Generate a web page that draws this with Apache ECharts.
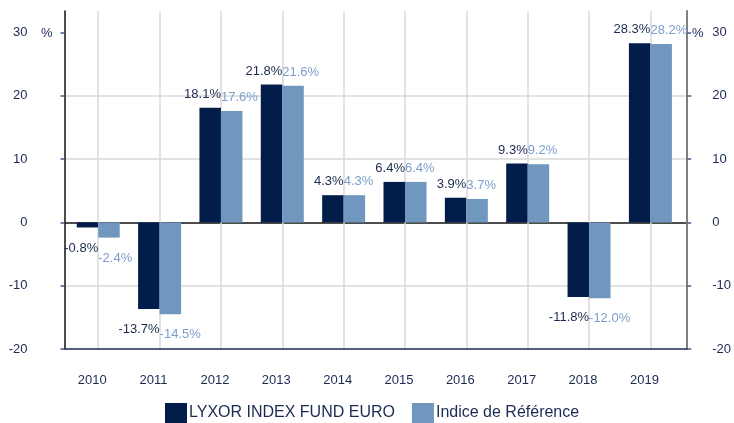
<!DOCTYPE html>
<html>
<head>
<meta charset="utf-8">
<script src="https://cdn.jsdelivr.net/npm/echarts@6/dist/echarts.min.js"></script>
<style>html,body{margin:0;padding:0;background:#fff;}#c{width:734px;height:423px;}</style>
</head>
<body>
<div id="c"></div>
<script>
const years = ['2010','2011','2012','2013','2014','2015','2016','2017','2018','2019'];
const fundValues = [-0.8, -13.7, 18.1, 21.8, 4.3, 6.4, 3.9, 9.3, -11.8, 28.3];
const indexValues = [-2.4, -14.5, 17.6, 21.6, 4.3, 6.4, 3.7, 9.2, -12.0, 28.2];
const yTicks = [-20, -10, 0, 10, 20, 30];
const seriesNames = ['LYXOR INDEX FUND EURO', 'Indice de Référence'];

const FONT = 'Liberation Sans, Arial, sans-serif';
const NAVY = '#1b2a52';
const DARK = '#021d49';
const LIGHT = '#7098bf';
const BW = 21.5;

function toData(vals) {
  return vals.map((v, i) => ({
    value: [i, v],
    label: { position: v < 0 ? 'bottom' : 'top', distance: v < 0 ? 14 : 7 }
  }));
}

const chart = echarts.init(document.getElementById('c'), null, { renderer: 'canvas' });
const yAxisCommon = {
  type: 'value', min: -20, max: 33.4, interval: 10,
  axisLabel: { color: NAVY, fontSize: 13, fontFamily: FONT, customValues: yTicks },
  axisTick: { show: true, length: 4, inside: false, customValues: yTicks, lineStyle: { color: '#4a5c8c', width: 1.5 } }
};
chart.setOption({
  animation: false,
  textStyle: { fontFamily: FONT },
  grid: { left: 64.5, right: 44, top: 11, bottom: 74, containLabel: false },
  xAxis: {
    type: 'value', min: -0.55, max: 9.6, splitNumber: 10,
    axisLine: { show: true, onZero: false, lineStyle: { color: '#1b2a52', width: 1.5 } },
    axisTick: { show: false },
    axisLabel: {
      color: NAVY, fontSize: 13, fontFamily: FONT, margin: 25, padding: [0, 12, 0, 0],
      showMinLabel: false, showMaxLabel: false,
      formatter: v => (Math.abs(v - Math.round(v)) < 1e-6 && years[Math.round(v)]) ? years[Math.round(v)] : ''
    },
    splitLine: { show: true, showMinLine: false, showMaxLine: false, lineStyle: { color: '#d9d9d9', width: 1.5 } }
  },
  yAxis: [
    Object.assign({}, yAxisCommon, {
      position: 'left',
      axisLine: { show: true, onZero: false, lineStyle: { color: '#111111', width: 1.5 } },
      axisLabel: Object.assign({}, yAxisCommon.axisLabel, { margin: 37 }),
      splitLine: { show: true, showMinLine: false, showMaxLine: false,
        lineStyle: { color: ['#d9d9d9', '#111111', '#d9d9d9', '#d9d9d9', '#d9d9d9'], width: 1.5 } }
    }),
    Object.assign({}, yAxisCommon, {
      position: 'right',
      axisLine: { show: true, onZero: false, lineStyle: { color: '#808080', width: 2 } },
      axisLabel: Object.assign({}, yAxisCommon.axisLabel, { margin: 25 }),
      splitLine: { show: false }
    })
  ],
  legend: {
    bottom: 0, left: 165, padding: 0,
    itemWidth: 22, itemHeight: 20, itemGap: 17, icon: 'rect',
    textStyle: { color: NAVY, fontSize: 16, fontFamily: FONT, padding: [0, 0, 0, -3] },
    data: seriesNames
  },
  graphic: [
    { type: 'text', left: 41, top: 27, style: { text: '%', fill: NAVY, font: '13px ' + FONT } },
    { type: 'text', left: 692, top: 27, style: { text: '%', fill: NAVY, font: '13px ' + FONT } }
  ],
  series: [
    {
      name: seriesNames[0], type: 'bar', barWidth: BW, barGap: '0%', z: 3,
      itemStyle: { color: DARK },
      label: { show: true, color: '#1c2b4f', fontSize: 13, fontFamily: FONT, align: 'right', offset: [BW / 2, 0],
        formatter: p => p.value[1].toFixed(1) + '%' },
      data: toData(fundValues)
    },
    {
      name: seriesNames[1], type: 'bar', barWidth: BW, barGap: '0%', z: 3,
      itemStyle: { color: LIGHT },
      label: { show: true, color: '#7b9fca', fontSize: 13, fontFamily: FONT, align: 'left', offset: [-BW / 2, 0],
        formatter: p => p.value[1].toFixed(1) + '%' },
      data: toData(indexValues)
    }
  ]
});
</script>
</body>
</html>
